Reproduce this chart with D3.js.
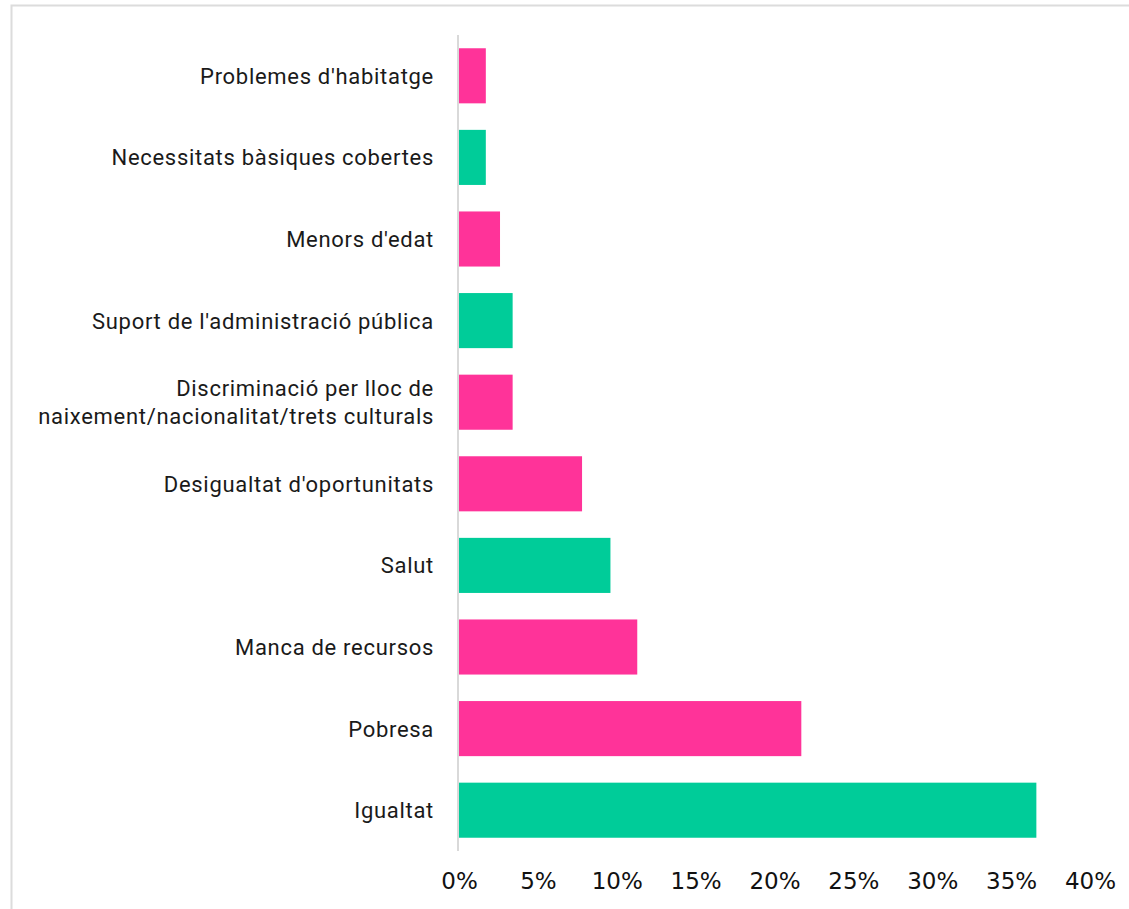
<!DOCTYPE html>
<html>
<head>
<meta charset="utf-8">
<script src="https://cdn.jsdelivr.net/npm/d3@7"></script>
<style>
  body { margin: 0; background: #fff; }
  svg { display: block; }
</style>
</head>
<body>
<svg id="chart" width="1129" height="909"></svg>
<script>
// categories top to bottom
const categories = [
  "Problemes d'habitatge",
  "Necessitats bàsiques cobertes",
  "Menors d'edat",
  "Suport de l'administració pública",
  "Discriminació per lloc de|naixement/nacionalitat/trets culturals",
  "Desigualtat d'oportunitats",
  "Salut",
  "Manca de recursos",
  "Pobresa",
  "Igualtat"
];
const values = [1.7, 1.7, 2.6, 3.4, 3.4, 7.8, 9.6, 11.3, 21.7, 36.6];
const groups = ["p", "g", "p", "g", "p", "p", "g", "p", "p", "g"];
const ticks = [0, 5, 10, 15, 20, 25, 30, 35, 40];

const colors = {p: "#ff3399", g: "#00cc99"};

const svg = d3.select("#chart");

// light frame around the chart
svg.append("rect")
  .attr("x", 11.5).attr("y", 5.5)
  .attr("width", 1140).attr("height", 930)
  .attr("fill", "none")
  .attr("stroke", "#dcdcdc")
  .attr("stroke-width", 2);

const x = d3.scaleLinear().domain([0, 40]).range([459, 1090]);
const y = d3.scaleBand().domain(categories).range([35, 851])
  .paddingInner(0.325).paddingOuter(0.1625);

// bars
svg.append("g").selectAll("rect")
  .data(categories)
  .join("rect")
  .attr("x", x(0))
  .attr("y", d => y(d))
  .attr("width", (d, i) => x(values[i]) - x(0))
  .attr("height", y.bandwidth())
  .attr("fill", (d, i) => colors[groups[i]]);

// vertical axis line
svg.append("line")
  .attr("x1", 458).attr("x2", 458)
  .attr("y1", 35).attr("y2", 851)
  .attr("stroke", "#d9d9d9")
  .attr("stroke-width", 2);

// category labels
const lab = svg.append("g")
  .attr("font-family", "Roboto, sans-serif")
  .attr("font-size", 22)
  .attr("letter-spacing", 0.7)
  .attr("fill", "#1a1a1a")
  .attr("text-anchor", "end");

categories.forEach(c => {
  const lines = c.split("|");
  const cy = y(c) + y.bandwidth() / 2;
  const t = lab.append("text").attr("x", 434);
  lines.forEach((l, i) => {
    t.append("tspan")
      .attr("x", 434)
      .attr("y", cy + (i - (lines.length - 1) / 2) * 28)
      .attr("dy", "0.36em")
      .text(l);
  });
});

// x axis ticks
const xAxis = d3.axisBottom(x)
  .tickValues(ticks)
  .tickFormat(d => d + "%")
  .tickSize(0)
  .tickPadding(0);

const gx = svg.append("g")
  .attr("transform", "translate(0,872)")
  .call(xAxis);
gx.select(".domain").remove();
gx.selectAll("text")
  .attr("font-family", "'DejaVu Sans', sans-serif")
  .attr("font-size", 23)
  .attr("fill", "#111")
  .attr("dy", "0.72em");
</script>
</body>
</html>
